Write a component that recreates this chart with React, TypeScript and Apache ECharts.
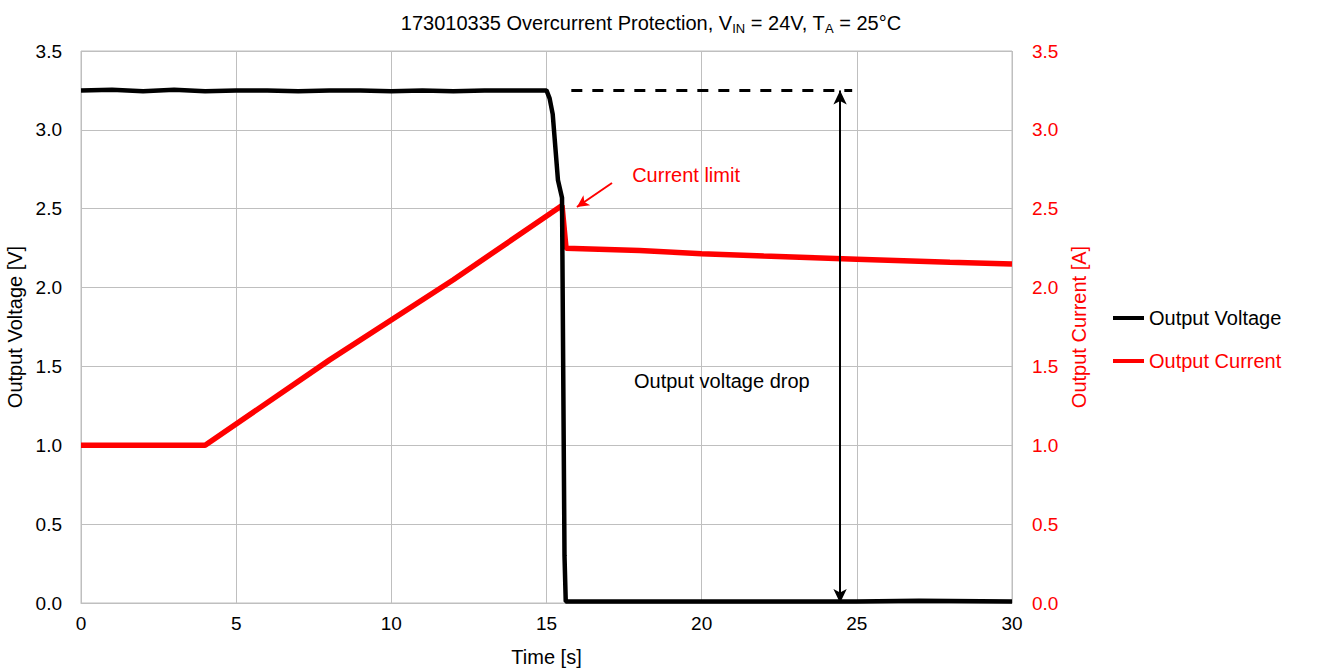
import React, { useEffect, useRef } from "react";
import * as echarts from "echarts";

const voltageX = [0, 1, 2, 3, 4, 5, 6, 7, 8, 9, 10, 11, 12, 13, 14, 15.0, 15.1, 15.2, 15.37, 15.5, 15.58, 15.62, 17, 20, 22, 25, 27, 30];
const voltageY = [3.25, 3.255, 3.245, 3.255, 3.245, 3.25, 3.25, 3.245, 3.25, 3.25, 3.245, 3.25, 3.245, 3.25, 3.25, 3.25, 3.2, 3.1, 2.68, 2.57, 0.3, 0.01, 0.01, 0.01, 0.01, 0.01, 0.015, 0.01];

const currentX = [0, 2, 4.0, 8, 12, 15.5, 15.63, 18, 20, 22, 25, 28, 30];
const currentY = [1.0, 1.0, 1.0, 1.54, 2.05, 2.52, 2.25, 2.235, 2.215, 2.2, 2.18, 2.16, 2.15];

const xTicks = { min: 0, max: 30, interval: 5 };
const yTicks = { min: 0, max: 3.5, interval: 0.5 };

const refLevel = 3.25;
const dashStartX = 15.8;
const dashEndX = 24.85;
const dropArrowX = 24.46;
const limitArrowFrom = [17.11, 2.663];
const limitArrowTo = [15.98, 2.511];
const limitLabelAt = [17.76, 2.714];
const dropLabelAt = [17.82, 1.408];

const seriesNames = ["Output Voltage", "Output Current"];

export default function App() {
  const ref = useRef<HTMLDivElement>(null);
  useEffect(() => {
    const chart = echarts.init(ref.current!, undefined, { renderer: "svg" });
    const font = "Liberation Sans, Arial, sans-serif";
    const tickSize = 19;
    const textSize = 20;
    const vData = voltageX.map((x, i) => [x, voltageY[i]]);
    const cData = currentX.map((x, i) => [x, currentY[i]]);
    chart.setOption({
      animation: false,
      textStyle: { fontFamily: font },
      title: {
        text: "173010335 Overcurrent Protection, V{sub|IN} = 24V, T{sub|A} = 25°C",
        left: 646,
        textAlign: "center",
        top: 5,
        textStyle: {
          fontFamily: font,
          fontSize: 20,
          fontWeight: "normal",
          color: "#000",
          rich: {
            sub: { fontSize: 13, fontFamily: font, color: "#000", padding: [12, 0, 0, 0] },
          },
        },
      },
      legend: {
        orient: "vertical",
        left: 1108,
        top: 303,
        itemGap: 23,
        itemWidth: 31,
        itemHeight: 4,
        icon: "rect",
        textStyle: { fontFamily: font, fontSize: textSize },
        data: [
          { name: seriesNames[0], textStyle: { color: "#000" } },
          { name: seriesNames[1], textStyle: { color: "#ff0000" } },
        ],
      },
      grid: {
        left: 81,
        right: 313,
        top: 51,
        bottom: 69,
        show: true,
        borderColor: "#bfbfbf",
        borderWidth: 1,
        containLabel: false,
        outerBoundsMode: "none",
      },
      xAxis: {
        type: "value",
        min: xTicks.min,
        max: xTicks.max,
        interval: xTicks.interval,
        name: "Time [s]",
        nameLocation: "middle",
        nameGap: 44,
        nameTextStyle: { fontFamily: font, fontSize: textSize, color: "#000" },
        axisLine: { show: true, lineStyle: { color: "#bfbfbf" } },
        axisTick: { show: false },
        axisLabel: { fontFamily: font, fontSize: tickSize, color: "#000", margin: 11 },
        splitLine: { show: true, lineStyle: { color: "#bfbfbf", width: 1 } },
      },
      yAxis: [
        {
          type: "value",
          min: yTicks.min,
          max: yTicks.max,
          interval: yTicks.interval,
          name: "Output Voltage [V]",
          nameLocation: "middle",
          nameGap: 47,
          nameTextStyle: { fontFamily: font, fontSize: textSize, color: "#000" },
          axisLine: { show: false },
          axisTick: { show: false },
          axisLabel: { fontFamily: font, fontSize: tickSize, color: "#000", margin: 19, formatter: (v: number) => v.toFixed(1) },
          splitLine: { show: true, lineStyle: { color: "#bfbfbf", width: 1 } },
        },
        {
          type: "value",
          position: "right",
          min: yTicks.min,
          max: yTicks.max,
          interval: yTicks.interval,
          name: "Output Current [A]",
          nameLocation: "middle",
          nameGap: 52,
          nameRotate: 90,
          nameTextStyle: { fontFamily: font, fontSize: textSize, color: "#ff0000" },
          axisLine: { show: false },
          axisTick: { show: false },
          axisLabel: { fontFamily: font, fontSize: tickSize, color: "#ff0000", margin: 20, formatter: (v: number) => v.toFixed(1) },
          splitLine: { show: false },
        },
      ],
      series: [
        {
          name: seriesNames[0],
          type: "line",
          yAxisIndex: 0,
          data: vData,
          showSymbol: false,
          symbol: "none",
          lineStyle: { color: "#000", width: 4.5 },
          itemStyle: { color: "#000" },
          z: 3,
          markLine: {
            silent: true,
            label: { show: false },
            symbolSize: [10, 14],
            lineStyle: { color: "#000", width: 2, type: "solid" },
            data: [
              [
                { coord: [dashStartX, refLevel], symbol: "none", lineStyle: { color: "#000", width: 3, type: [11, 10] } },
                { coord: [dashEndX, refLevel], symbol: "none" },
              ],
              [
                { coord: [dropArrowX, refLevel], symbol: "arrow", lineStyle: { color: "#000", width: 2, type: "solid" } },
                { coord: [dropArrowX, 0], symbol: "arrow" },
              ],
            ],
          },
          markPoint: {
            silent: true,
            symbol: "circle",
            symbolSize: 0,
            label: {
              show: true,
              position: "right",
              distance: 0,
              color: "#000",
              fontFamily: font,
              fontSize: textSize,
              formatter: "Output voltage drop",
            },
            data: [{ coord: dropLabelAt }],
          },
        },
        {
          name: seriesNames[1],
          type: "line",
          yAxisIndex: 1,
          data: cData,
          showSymbol: false,
          symbol: "none",
          lineStyle: { color: "#ff0000", width: 5.5 },
          itemStyle: { color: "#ff0000" },
          z: 2,
          markLine: {
            silent: true,
            label: { show: false },
            symbolSize: [9, 12],
            lineStyle: { color: "#ff0000", width: 2, type: "solid" },
            data: [
              [
                { coord: limitArrowFrom, symbol: "none" },
                { coord: limitArrowTo, symbol: "arrow" },
              ],
            ],
          },
          markPoint: {
            silent: true,
            symbol: "circle",
            symbolSize: 0,
            label: {
              show: true,
              position: "right",
              distance: 0,
              color: "#ff0000",
              fontFamily: font,
              fontSize: textSize,
              formatter: "Current limit",
            },
            data: [{ coord: limitLabelAt }],
          },
        },
      ],
    });
    return () => chart.dispose();
  }, []);
  return <div ref={ref} style={{ width: 1325, height: 672, position: "absolute", left: 0, top: 0 }} />;
}
